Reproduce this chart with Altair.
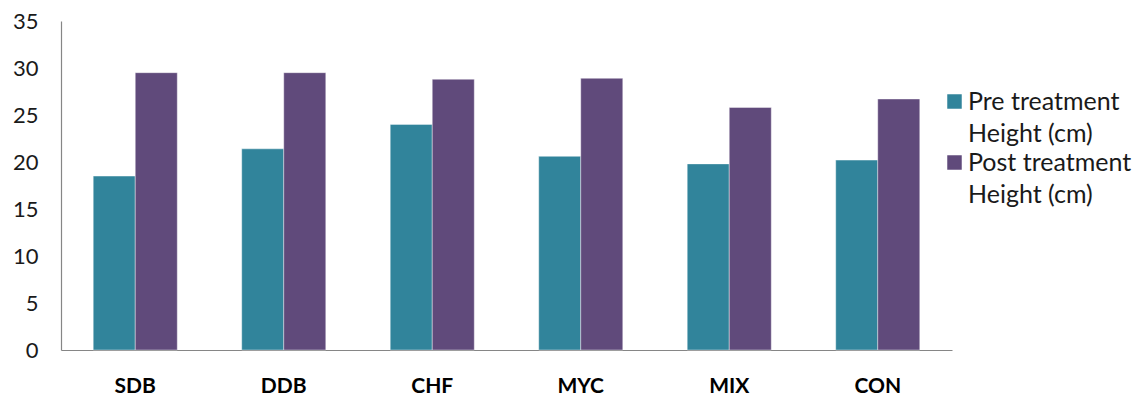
import altair as alt
import pandas as pd

# Plant height before and after each treatment
treatments = ["SDB", "DDB", "CHF", "MYC", "MIX", "CON"]
pre_height = [18.5, 21.4, 24.0, 20.6, 19.8, 20.2]
post_height = [29.5, 29.5, 28.8, 28.9, 25.8, 26.7]
series = ["Pre treatment|Height (cm)", "Post treatment|Height (cm)"]
colors = ["#31849B", "#604A7B"]

rows = []
for t, a, b in zip(treatments, pre_height, post_height):
    rows.append({"Treatment": t, "Series": series[0], "Height": a})
    rows.append({"Treatment": t, "Series": series[1], "Height": b})
df = pd.DataFrame(rows)

FONT = "Lato"

chart = (
    alt.Chart(df)
    .mark_bar(stroke="#ffffff", strokeOpacity=0.5, strokeWidth=0.8)
    .encode(
        x=alt.X(
            "Treatment:N",
            sort=treatments,
            scale=alt.Scale(paddingInner=0.434, paddingOuter=0.217),
            axis=alt.Axis(
                title=None,
                labelAngle=0,
                labelFont=FONT,
                labelFontWeight="bold",
                labelFontSize=21,
                labelColor="#000000",
                labelPadding=25,
                ticks=False,
                domainColor="#868686",
                domainWidth=1.2,
            ),
        ),
        xOffset=alt.XOffset("Series:N", sort=series),
        y=alt.Y(
            "Height:Q",
            scale=alt.Scale(domain=[0, 35], nice=False),
            axis=alt.Axis(
                title=None,
                values=[0, 5, 10, 15, 20, 25, 30, 35],
                grid=False,
                ticks=False,
                labelFont=FONT,
                labelFontSize=22,
                labelColor="#1a1a1a",
                labelPadding=23,
                domainColor="#868686",
                domainWidth=1.2,
            ),
        ),
        color=alt.Color(
            "Series:N",
            sort=series,
            scale=alt.Scale(domain=series, range=colors),
            legend=alt.Legend(
                title=None,
                orient="none",
                legendX=881,
                legendY=68,
                symbolType="square",
                symbolSize=210,
                symbolStrokeWidth=0,
                labelFont=FONT,
                labelFontSize=25,
                labelColor="#1a1a1a",
                labelExpr="split(datum.label, '|')",
                labelBaseline="middle",
                labelOffset=1,
                rowPadding=3,
                labelLimit=300,
            ),
        ),
    )
    .properties(
        width=891,
        height=329,
        padding={"left": 61, "top": 21, "right": 188, "bottom": 52},
        autosize=alt.AutoSizeParams(type="none"),
    )
    .configure(background="#ffffff", style={"guide-label": {"lineHeight": 32.5}})
    .configure_view(strokeWidth=0, stroke="transparent")
)

chart.save("out.html", embed_options={"renderer": "svg", "actions": False})
